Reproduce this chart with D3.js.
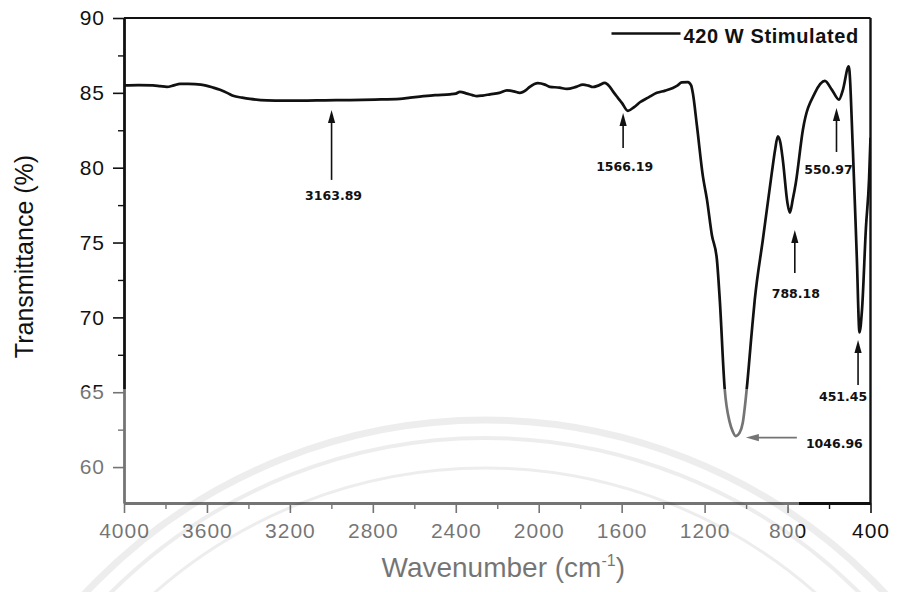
<!DOCTYPE html>
<html>
<head>
<meta charset="utf-8">
<script src="https://cdn.jsdelivr.net/npm/d3@7"></script>
<style>
  body { margin: 0; background: #fff; }
  #chart { width: 897px; height: 592px; }
  .tick text { font-family: "Liberation Sans", Arial, sans-serif; }
</style>
</head>
<body>
<div id="chart"></div>
<script>
// FTIR spectrum
const wavenumber = [
  4000, 3930, 3860, 3826, 3793, 3760, 3730, 3690, 3658, 3609, 3570, 3537, 3500, 3474, 3430, 3392,
  3311, 3230, 3151, 3030, 2910, 2790, 2669, 2620, 2573, 2500, 2428, 2400, 2380, 2346, 2320, 2298,
  2270, 2235, 2190, 2153, 2120, 2091, 2060, 2043, 2004, 1970, 1946, 1900, 1864, 1820, 1787, 1760,
  1739, 1710, 1681, 1660, 1642, 1620, 1599, 1570, 1540, 1512, 1470, 1430, 1390, 1353, 1330, 1310,
  1281, 1265, 1257, 1237, 1208, 1189, 1165, 1141, 1127, 1103, 1079, 1065, 1050, 1031, 1016, 997,
  973, 958, 919, 876, 860, 847, 835, 823, 800, 789, 775, 760, 726, 668, 620, 586,
  552, 533, 505, 485, 466, 453, 441, 422, 407, 400
];
const transmittance = [
  85.5, 85.52, 85.5, 85.45, 85.4, 85.5, 85.6, 85.6, 85.58, 85.5, 85.35, 85.2, 84.98, 84.8, 84.68, 84.6,
  84.5, 84.48, 84.48, 84.5, 84.52, 84.55, 84.6, 84.68, 84.75, 84.85, 84.9, 84.95, 85.07, 84.95, 84.85, 84.78,
  84.82, 84.9, 85.0, 85.17, 85.1, 85.0, 85.2, 85.4, 85.65, 85.55, 85.4, 85.35, 85.26, 85.4, 85.55, 85.48,
  85.39, 85.5, 85.66, 85.45, 85.1, 84.7, 84.33, 83.8, 84.05, 84.37, 84.7, 85.0, 85.15, 85.33, 85.5, 85.7,
  85.72, 85.5, 85.0, 82.8, 79.4, 77.9, 75.5, 73.9, 71.2, 65.2, 63.0, 62.4, 62.07, 62.3, 62.96, 65.2,
  68.97, 71.2, 75.2, 79.65, 81.2, 82.1, 81.7, 80.54, 77.6, 77.0, 77.87, 79.0, 82.54, 85.0, 85.8, 85.2,
  84.55, 85.2, 86.77, 81.2, 74.0, 69.0, 70.5, 76.0, 79.2, 82.0
];

// axis ticks
const xTickValues = [4000, 3600, 3200, 2800, 2400, 2000, 1600, 1200, 800, 400];
const xMinorValues = [3800, 3400, 3000, 2600, 2200, 1800, 1400, 1000, 600];
const yTickValues = [60, 65, 70, 75, 80, 85, 90];
const yMinorValues = [62.5, 67.5, 72.5, 77.5, 82.5, 87.5];

// peak annotations: label and where the arrow tip sits (wavenumber, %T)
const peakLabels = ["3163.89", "1566.19", "550.97", "788.18", "451.45", "1046.96"];
const peakArrowWn = [2999, 1593, 564, 765, 460, 1001];
const peakArrowT = [83.86, 83.65, 83.99, 75.84, 68.49, 61.97];

const seriesName = "420 W Stimulated";

const margin = { top: 18, right: 26.5, bottom: 89, left: 124 };
const W = 897, H = 592;
const width = W - margin.left - margin.right;
const height = H - margin.top - margin.bottom;
const ink = "#111";
const font = '"Liberation Sans", Arial, sans-serif';

const svg = d3.select("#chart").append("svg")
  .attr("width", W)
  .attr("height", H);

const g = svg.append("g")
  .attr("transform", `translate(${margin.left},${margin.top})`);

const x = d3.scaleLinear().domain([4000, 400]).range([0, width]);
const y = d3.scaleLinear().domain([57.6, 90]).range([height, 0]);

// ---- axes ----
const xAxis = g.append("g")
  .attr("transform", `translate(0,${height})`)
  .call(d3.axisBottom(x).tickValues(xTickValues).tickFormat(d3.format("d"))
    .tickSizeInner(10).tickSizeOuter(0).tickPadding(10));
const xMinor = g.append("g")
  .attr("transform", `translate(0,${height})`)
  .call(d3.axisBottom(x).tickValues(xMinorValues).tickSize(6).tickFormat(""));

const yAxis = g.append("g")
  .call(d3.axisLeft(y).tickValues(yTickValues).tickFormat(d3.format("d"))
    .tickSizeInner(11).tickSizeOuter(0).tickPadding(8));
const yMinor = g.append("g")
  .call(d3.axisLeft(y).tickValues(yMinorValues).tickSize(6).tickFormat(""));

[xAxis, yAxis].forEach(a => {
  a.select(".domain").attr("stroke", ink).attr("stroke-width", 2.8);
  a.selectAll(".tick line").attr("stroke", ink).attr("stroke-width", 1.6);
  a.selectAll(".tick text")
    .attr("fill", ink)
    .style("font-size", "21px")
    .style("letter-spacing", "1px");
});
[xMinor, yMinor].forEach(a => {
  a.select(".domain").remove();
  a.selectAll(".tick line").attr("stroke", ink).attr("stroke-width", 1.4);
});

// top and right frame
g.append("line")
  .attr("x1", 0).attr("x2", width).attr("y1", 0).attr("y2", 0)
  .attr("stroke", ink).attr("stroke-width", 2.2);
g.append("line")
  .attr("x1", width).attr("x2", width).attr("y1", 0).attr("y2", height)
  .attr("stroke", ink).attr("stroke-width", 2.4);

// ---- spectrum ----
const spectrum = wavenumber.map((wn, i) => ({ wn: wn, t: transmittance[i] }));

g.append("clipPath").attr("id", "plot-clip")
  .append("rect").attr("width", width).attr("height", height);

const line = d3.line()
  .x(d => x(d.wn))
  .y(d => y(d.t))
  .curve(d3.curveMonotoneX);

g.append("path")
  .datum(spectrum)
  .attr("clip-path", "url(#plot-clip)")
  .attr("fill", "none")
  .attr("stroke", ink)
  .attr("stroke-width", 2.7)
  .attr("stroke-linejoin", "round")
  .attr("d", line);

// ---- legend ----
const legend = g.append("g").attr("class", "legend");
legend.append("line")
  .attr("x1", width - 259).attr("x2", width - 190)
  .attr("y1", 15.5).attr("y2", 15.5)
  .attr("stroke", ink).attr("stroke-width", 2.6);
legend.append("text")
  .attr("x", width - 187)
  .attr("y", 25)
  .attr("fill", ink)
  .style("font-family", font)
  .style("font-weight", "bold")
  .style("font-size", "20px")
  .style("letter-spacing", "0.6px")
  .text(seriesName);

// ---- peak arrows ----
// arrow length and label offset (px), per peak
const arrowLayout = {
  "3163.89": { dir: "up", len: 70, dx: 2, dy: 20 },
  "1566.19": { dir: "up", len: 35, dx: 1.5, dy: 23 },
  "550.97":  { dir: "up", len: 44, dx: -8, dy: 22.5 },
  "788.18":  { dir: "up", len: 43, dx: 1, dy: 25 },
  "451.45":  { dir: "up", len: 45, dx: -15, dy: 16 },
  "1046.96": { dir: "left", len: 51, dx: 9, dy: 10.5 }
};

const peaks = peakLabels.map((label, i) => ({
  label: label,
  px: x(peakArrowWn[i]),
  py: y(peakArrowT[i]),
  lay: arrowLayout[label]
}));

const ann = g.append("g").attr("class", "peaks");
peaks.forEach(p => {
  const a = ann.append("g").attr("transform", `translate(${p.px},${p.py})`);
  if (p.lay.dir === "up") {
    a.append("line")
      .attr("x1", 0).attr("x2", 0).attr("y1", 10).attr("y2", p.lay.len)
      .attr("stroke", ink).attr("stroke-width", 1.6);
    a.append("path")
      .attr("d", "M0,0 L-3.6,13 L3.6,13 Z")
      .attr("fill", ink);
    a.append("text")
      .attr("x", p.lay.dx)
      .attr("y", p.lay.len + p.lay.dy)
      .attr("text-anchor", "middle")
      .attr("fill", ink)
      .style("font-family", '"DejaVu Sans", Verdana, sans-serif')
      .style("font-weight", "bold")
      .style("font-size", "12.5px")
      .text(p.label);
  } else {
    a.append("line")
      .attr("x1", 10).attr("x2", p.lay.len).attr("y1", 0).attr("y2", 0)
      .attr("stroke", ink).attr("stroke-width", 1.6);
    a.append("path")
      .attr("d", "M0,0 L13,-3.6 L13,3.6 Z")
      .attr("fill", ink);
    a.append("text")
      .attr("x", p.lay.len + p.lay.dx)
      .attr("y", p.lay.dy)
      .attr("fill", ink)
      .style("font-family", '"DejaVu Sans", Verdana, sans-serif')
      .style("font-weight", "bold")
      .style("font-size", "12.5px")
      .text(p.label);
  }
});

// ---- axis titles ----
svg.append("text")
  .attr("transform", `translate(33,${margin.top + height / 2 - 4}) rotate(-90)`)
  .attr("text-anchor", "middle")
  .attr("fill", ink)
  .style("font-family", font)
  .style("font-size", "25px")
  .text("Transmittance (%)");

const xTitle = svg.append("text")
  .attr("x", margin.left + width / 2 + 6)
  .attr("y", 577)
  .attr("text-anchor", "middle")
  .attr("fill", ink)
  .style("font-family", font)
  .style("font-size", "28px");
xTitle.append("tspan").text("Wavenumber (cm");
xTitle.append("tspan").attr("dy", -11).style("font-size", "16px").text("-1");
xTitle.append("tspan").attr("dy", 11).text(")");

// ---- scan watermark: faded lower area + faint seal rings ----
svg.append("rect")
  .attr("x", 0).attr("y", 389)
  .attr("width", 799).attr("height", H - 389)
  .attr("fill", "#fff")
  .attr("opacity", 0.42);

const seal = svg.append("g").attr("fill", "none").attr("stroke", "#000").attr("stroke-opacity", 0.07);
[[548, 7], [530, 4], [500, 3]].forEach(([r, w]) => {
  seal.append("circle").attr("cx", 485).attr("cy", 968).attr("r", r).attr("stroke-width", w);
});
</script>
</body>
</html>
